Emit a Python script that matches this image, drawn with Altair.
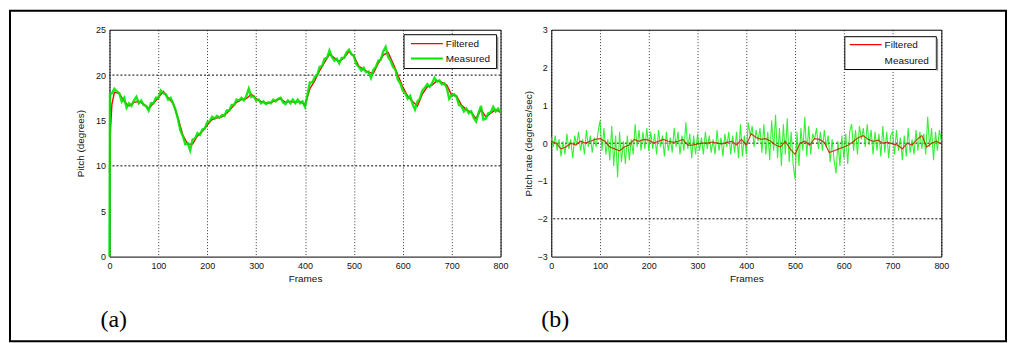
import altair as alt
import pandas as pd

# ---------------- data ----------------
x_ticks = [0, 100, 200, 300, 400, 500, 600, 700, 800]
y_ticks_a = [0, 5, 10, 15, 20, 25]
y_ticks_b = [-3, -2, -1, 0, 1, 2, 3]
y_grid_a = [10, 20]
y_grid_b = [0, -2]

# Panel (a): pitch (degrees)
frames_meas_a = [0, 1] + list(range(5, 805, 5))
pitch_measured = [0.0, 17.9,
    18.0, 18.5, 18.2, 18.0, 17.1, 17.5, 16.4, 16.9, 16.6, 17.2, 17.6, 16.9, 17.2, 16.7, 16.6, 16.1, 16.9, 16.9, 17.5, 17.5,
    18.3, 18.0, 17.9, 17.3, 17.5, 16.9, 16.2, 15.2, 13.9, 13.3, 12.4, 12.5, 11.7, 12.9, 13.0, 13.6, 13.4, 14.0, 14.1, 14.8,
    14.9, 15.4, 15.2, 15.5, 15.3, 15.6, 15.5, 16.1, 16.1, 16.7, 16.7, 17.3, 17.2, 17.5, 17.2, 17.7, 18.5, 17.6, 17.7, 17.2,
    17.3, 16.9, 17.1, 16.8, 17.0, 16.9, 17.3, 17.1, 17.4, 17.5, 17.0, 16.8, 17.2, 16.9, 17.3, 16.9, 17.3, 16.9, 17.1, 16.5,
    17.8, 19.2, 19.2, 19.8, 20.0, 20.9, 21.0, 21.8, 21.9, 22.7, 22.0, 21.6, 21.8, 21.3, 21.9, 21.9, 22.5, 22.8, 22.3, 22.1,
    21.2, 20.9, 20.5, 20.8, 20.3, 20.4, 19.7, 20.6, 20.9, 21.6, 21.7, 22.6, 23.1, 22.0, 21.6, 20.9, 20.6, 19.5, 19.1, 18.3,
    18.0, 17.4, 17.7, 16.8, 16.2, 17.1, 17.4, 18.3, 18.6, 19.0, 18.7, 19.1, 19.7, 19.3, 19.4, 19.0, 19.1, 18.6, 17.4, 17.8,
    17.9, 17.6, 16.7, 16.6, 16.0, 16.3, 15.8, 16.0, 15.3, 14.9, 15.8, 16.6, 15.1, 15.2, 15.8, 15.9, 16.5, 16.0, 16.3, 15.9]

frames_filt_a = [0, 2, 5] + list(range(10, 810, 10))
pitch_filtered = [9.3, 14.0, 16.8,
    18.1, 18.0, 17.1, 16.6, 17.0, 17.1, 16.8, 16.3, 16.9, 17.5,
    18.2, 17.5, 16.9, 15.3, 13.4, 12.4, 12.4, 13.3, 13.8, 14.5,
    15.1, 15.3, 15.4, 15.8, 16.4, 17.0, 17.3, 17.4, 17.9, 17.4,
    17.1, 16.9, 17.0, 17.2, 17.4, 17.0, 17.1, 17.0, 17.1, 16.7,
    18.5, 19.4, 20.5, 21.4, 22.3, 21.9, 21.5, 21.9, 22.6, 22.1,
    21.0, 20.6, 20.3, 20.2, 21.3, 22.2, 22.5, 21.3, 20.0, 18.7,
    17.7, 17.1, 16.6, 17.9, 18.7, 18.9, 19.4, 19.2, 18.9, 17.8,
    17.7, 16.7, 16.2, 15.9, 15.2, 16.2, 15.4, 15.8, 16.2, 15.9]

# Panel (b): pitch rate (degrees/sec)
frames_meas_b = list(range(0, 804, 4))
rate_measured = [
    0.15, -0.1, 0.2, -0.2, 0.1, -0.35, 0.05, -0.3, 0.25, -0.15, 0.1, -0.4, 0.2, -0.05, 0.3, -0.2, 0.1, -0.3, 0.35, -0.1, 0.2, -0.25, 0.15, -0.1, 0.3,
    0.6, -0.2, 0.4, -0.3, 0.1, -0.45, 0.45, -0.6, 0.2, -0.9, 0.3, -0.5, 0.05, -0.55, 0.2, -0.45, 0.1, -0.3, 0.5, -0.1, 0.35, -0.2, 0.3, -0.15, 0.4,
    -0.2, 0.3, -0.15, 0.25, -0.3, 0.35, -0.1, 0.2, -0.35, 0.3, -0.2, 0.15, -0.25, 0.4, -0.1, 0.3, -0.3, 0.2, -0.2, 0.55, -0.15, 0.25, -0.4, 0.2, -0.3,
    0.25, -0.2, 0.15, -0.3, 0.3, -0.15, 0.2, -0.25, 0.1, -0.3, 0.35, -0.2, 0.15, -0.35, 0.25, -0.1, 0.3, -0.3, 0.2, -0.25, 0.3, -0.4, 0.5, -0.35, 0.2,
    -0.3, 0.55, 0.2, 0.45, -0.1, 0.35, 0.05, 0.4, -0.25, 0.5, -0.3, 0.3, -0.45, 0.6, -0.2, 0.75, -0.4, 0.4, -0.6, 0.5, -0.3, 0.65, -0.5, 0.3, -0.55,
    -0.95, 0.3, -0.6, 0.4, -0.2, 0.7, -0.35, 0.45, -0.3, 0.25, 0.1, 0.4, -0.15, 0.3, -0.2, 0.35, -0.1, 0.2, -0.5, 0.1, -0.45, -0.8, 0.05, -0.6, 0.2,
    -0.4, 0.25, -0.55, 0.3, 0.5, -0.2, 0.35, -0.3, 0.45, 0.1, 0.4, -0.1, 0.5, -0.05, 0.35, -0.3, 0.3, -0.2, 0.25, -0.35, 0.45, -0.25, 0.3, -0.4, 0.2,
    0.3, -0.3, 0.35, -0.2, 0.15, -0.45, 0.2, -0.35, 0.4, -0.25, 0.1, -0.3, 0.35, -0.2, 0.3, -0.15, 0.25, -0.3, 0.7, -0.1, 0.4, -0.45, 0.3, -0.2, 0.35,
    0.05]

frames_filt_b = list(range(0, 810, 10))
rate_filtered = [
    0.05, 0.0, -0.15, -0.1, 0.0, -0.05, 0.05, 0.0, 0.05, 0.1,
    0.12, 0.05, -0.1, -0.15, -0.2, -0.1, -0.05, 0.1, 0.05, 0.1,
    0.08, 0.0, 0.05, 0.1, 0.05, 0.02, 0.05, 0.1, -0.05, -0.05,
    -0.02, 0.0, 0.0, 0.03, 0.0, -0.02, 0.02, 0.05, -0.05, 0.1,
    -0.05, 0.25, 0.15, 0.1, 0.12, 0.05, -0.05, -0.1, 0.05, -0.15,
    -0.3, 0.0, 0.05, -0.05, 0.12, 0.1, 0.02, -0.25, -0.2, -0.15,
    -0.1, -0.05, 0.05, 0.15, 0.2, 0.1, 0.05, 0.08, 0.0, 0.02,
    -0.02, -0.05, -0.15, 0.0, -0.05, 0.1, 0.2, -0.1, 0.0, 0.05,
    -0.02]

# ---------------- tables ----------------
df_meas_a = pd.DataFrame({"frame": frames_meas_a, "v": pitch_measured})
df_filt_a = pd.DataFrame({"frame": frames_filt_a, "v": pitch_filtered})
df_meas_b = pd.DataFrame({"frame": frames_meas_b, "v": rate_measured})
df_filt_b = pd.DataFrame({"frame": frames_filt_b, "v": rate_filtered})
df_grid_a = pd.DataFrame({"v": y_grid_a})
df_grid_b = pd.DataFrame({"v": y_grid_b})
one = alt.Data(values=[{"k": 0}])

W_A, W_B, H = 393, 392, 228
FONT = "Liberation Sans"
GREEN = "#00e600"
RED = "#ff0000"


def x_enc():
    return alt.X("frame:Q",
                 scale=alt.Scale(domain=[0, 800], nice=False, zero=False),
                 axis=alt.Axis(values=x_ticks, grid=True, gridDash=[1, 2], gridColor="#000",
                               gridOpacity=0.8, ticks=False, domain=False, labelPadding=5,
                               labelFlush=False, labelOverlap=False, title="Frames", titleY=22,
                               titleBaseline="middle"))


def y_enc(dom, ticks, title, tx):
    return alt.Y("v:Q",
                 scale=alt.Scale(domain=dom, nice=False, zero=False),
                 axis=alt.Axis(values=ticks, grid=False, ticks=False, domain=False,
                               labelPadding=4, labelFlush=False, labelOverlap=False,
                               format="d", title=title,
                               titleX=tx, titleY=H / 2, titleBaseline="middle"))


def legend(x0, x1, y0, y1, lx0, lx1, ly1, ly2, show_green):
    box = alt.Chart(one).mark_rect(fill="white", stroke="#000", strokeWidth=1).encode(
        x=alt.value(x0), x2=alt.value(x1), y=alt.value(y0), y2=alt.value(y1))
    shade = alt.Chart(one).mark_rule(color="#888", strokeWidth=1.5).encode(
        x=alt.value(x1 + 1), y=alt.value(y0 + 2), y2=alt.value(y1 + 1))
    r = alt.Chart(one).mark_rule(color=RED, strokeWidth=1.2).encode(
        x=alt.value(lx0), x2=alt.value(lx1), y=alt.value(ly1))
    t1 = alt.Chart(one).mark_text(text="Filtered", align="left", baseline="middle",
                                  font=FONT, fontSize=10, color="#111").encode(
        x=alt.value(lx1 + 3), y=alt.value(ly1))
    t2 = alt.Chart(one).mark_text(text="Measured", align="left", baseline="middle",
                                  font=FONT, fontSize=10, color="#111").encode(
        x=alt.value(lx1 + 3), y=alt.value(ly2))
    layers = [box, shade, r, t1, t2]
    if show_green:
        g = alt.Chart(one).mark_rule(color=GREEN, strokeWidth=2).encode(
            x=alt.value(lx0), x2=alt.value(lx1), y=alt.value(ly2))
        layers.append(g)
    return layers


def caption(txt, x):
    return alt.Chart(one).mark_text(text=txt, align="left", baseline="alphabetic",
                                    font="Liberation Serif", fontSize=24, color="#000").encode(
        x=alt.value(x), y=alt.value(299))


A_TITLE = "Pitch (degrees)"
B_TITLE = "Pitch rate (degrees/sec)"

# ---------------- panel (a) ----------------
grid_a = alt.Chart(df_grid_a).mark_rule(color="#000", strokeDash=[2, 2], strokeWidth=1).encode(
    y=y_enc([0, 25], y_ticks_a, A_TITLE, -29))
filt_a = alt.Chart(df_filt_a).mark_line(color=RED, strokeWidth=1.4).encode(
    x=x_enc(), y=y_enc([0, 25], y_ticks_a, A_TITLE, -29))
meas_a = alt.Chart(df_meas_a).mark_line(color=GREEN, strokeWidth=2.4, opacity=0.9).encode(
    x=x_enc(), y=y_enc([0, 25], y_ticks_a, A_TITLE, -29))
border = alt.Chart(one).mark_rect(filled=False, stroke="#000", strokeWidth=2).encode(
    x=alt.value(-100), x2=alt.value(901), y=alt.value(-19), y2=alt.value(313))

left = alt.layer(grid_a, filt_a, meas_a,
                 *legend(296, 389, 5, 39, 303, 335, 14, 29, True),
                 border, caption("(a)", -9)).properties(width=W_A, height=H)

# ---------------- panel (b) ----------------
grid_b = alt.Chart(df_grid_b).mark_rule(color="#000", strokeDash=[2, 2], strokeWidth=1).encode(
    y=y_enc([-3, 3], y_ticks_b, B_TITLE, -23))
meas_b = alt.Chart(df_meas_b).mark_line(color="#11ee11", strokeWidth=1.1, opacity=0.85).encode(
    x=x_enc(), y=y_enc([-3, 3], y_ticks_b, B_TITLE, -23))
filt_b = alt.Chart(df_filt_b).mark_line(color="#c81e00", strokeWidth=1.2, opacity=0.85).encode(
    x=x_enc(), y=y_enc([-3, 3], y_ticks_b, B_TITLE, -23))

right = alt.layer(grid_b, meas_b, filt_b,
                  *legend(295, 387, 7, 40, 300, 332, 15, 31, False),
                  caption("(b)", -10)).properties(width=W_B, height=H)

chart = alt.hconcat(left, right, spacing=51, bounds="flush").properties(
    padding=0
).configure_view(
    stroke="#000", strokeWidth=1
).configure_axis(
    labelFont=FONT, titleFont=FONT, labelFontSize=9, titleFontSize=10,
    titleFontWeight="normal", labelColor="#111", titleColor="#111"
)

chart.save("out.html", embed_options={"renderer": "svg", "actions": False})
